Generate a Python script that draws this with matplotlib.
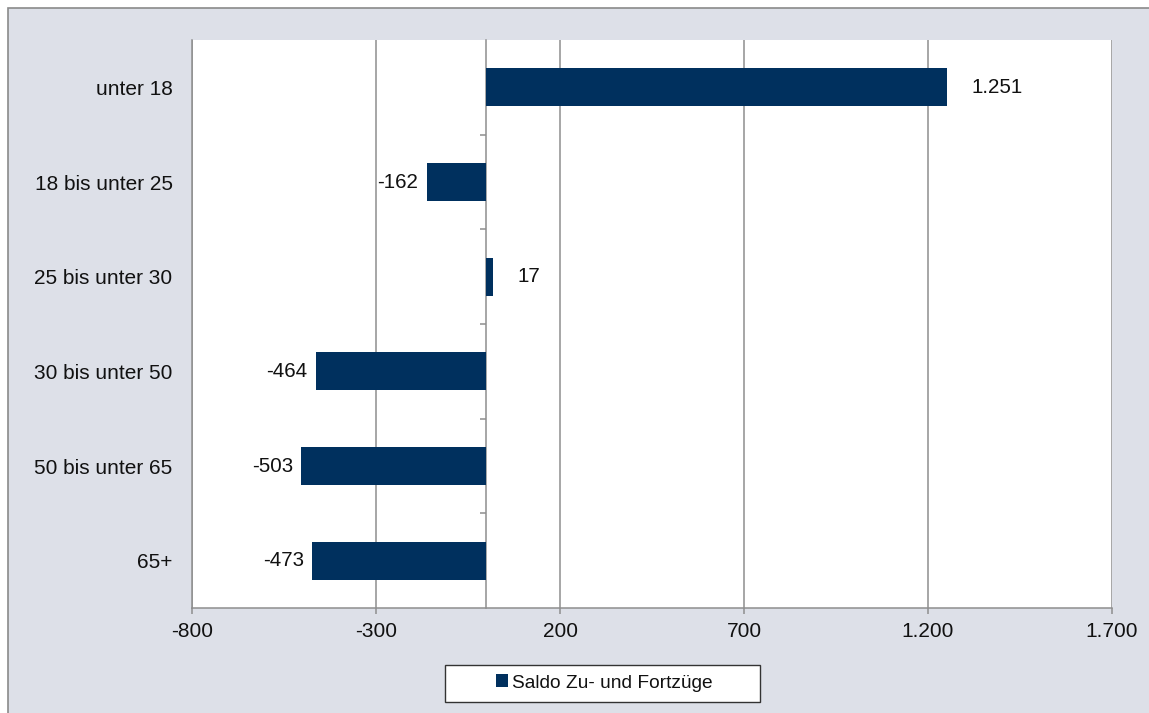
import matplotlib
matplotlib.use("Agg")
import matplotlib.pyplot as plt
from matplotlib.patches import Patch, Rectangle

plt.rcParams['font.family'] = ['Liberation Sans', 'DejaVu Sans']

categories = ['unter 18', '18 bis unter 25', '25 bis unter 30',
              '30 bis unter 50', '50 bis unter 65', '65+']
saldo = [1251, -162, 17, -464, -503, -473]
xticks = [-800, -300, 200, 700, 1200, 1700]
series_name = 'Saldo Zu- und Fortzüge'

bar_color = '#00305e'
bg_color = '#dde0e8'
grid_color = '#8e8e8e'
text_color = '#111111'


def de_num(v):
    return f'{v:,}'.replace(',', '.')


fig = plt.figure(figsize=(11.49, 7.13), dpi=100, facecolor='white')
# grey chart area with thin outline
fig.patches.append(Rectangle((8 / 1149, -0.1), 1.2, 1.1 - 8 / 713,
                             transform=fig.transFigure, facecolor=bg_color,
                             edgecolor='#8a8a8a', linewidth=1.2, zorder=-10))

ax = fig.add_axes([192 / 1149, 1 - 608 / 713, 920 / 1149, 568 / 713])
ax.set_facecolor('white')

ypos = list(range(len(categories)))
ax.barh(ypos, saldo, height=0.4, color=bar_color, zorder=3)
ax.set_ylim(len(categories) - 0.5, -0.5)
ax.set_xlim(-800, 1700)

ax.set_xticks(xticks)
ax.set_xticklabels([de_num(t) for t in xticks])
ax.set_yticks(ypos)
ax.set_yticklabels(categories)
ax.tick_params(axis='y', length=0, pad=14, labelsize=15, colors=text_color)
ax.tick_params(axis='x', length=4, width=1.1, color=grid_color, pad=6,
               labelsize=15, labelcolor=text_color)

ax.grid(axis='x', color=grid_color, linewidth=1.1, zorder=1)
for side in ['top', 'right']:
    ax.spines[side].set_visible(False)
for side in ['left', 'bottom']:
    ax.spines[side].set_color(grid_color)
    ax.spines[side].set_linewidth(1.1)

# category axis crossing at zero
zero_frac = (0 - (-800)) / (1700 - (-800))
sec = ax.secondary_yaxis(zero_frac)
sec.set_yticks([i + 0.5 for i in range(len(categories) - 1)])
sec.set_yticklabels([])
sec.tick_params(length=4, width=1.1, color=grid_color)
sec.spines['left'].set_color(grid_color)
sec.spines['left'].set_linewidth(1.1)

for y, v in zip(ypos, saldo):
    if v >= 0:
        ax.annotate(de_num(v), (v, y), xytext=(18, 0), textcoords='offset points',
                    ha='left', va='center', fontsize=14.8, color=text_color, zorder=4)
    else:
        ax.annotate(de_num(v), (v, y), xytext=(-6, 0), textcoords='offset points',
                    ha='right', va='center', fontsize=14.8, color=text_color, zorder=4)

# legend box
fig.patches.append(Rectangle((445 / 1149, 1 - 702 / 713), 315 / 1149, 37 / 713,
                             transform=fig.transFigure, facecolor='white',
                             edgecolor='#333333', linewidth=1.0, zorder=-5))
fig.legend(handles=[Patch(facecolor=bar_color, label=series_name)],
           loc='center', bbox_to_anchor=(604 / 1149, 1 - 683 / 713),
           frameon=False, fontsize=13.8, handlelength=0.65, handleheight=0.65,
           handletextpad=0.2, labelcolor=text_color)

fig.savefig('out.png', dpi=100, facecolor=fig.get_facecolor())
